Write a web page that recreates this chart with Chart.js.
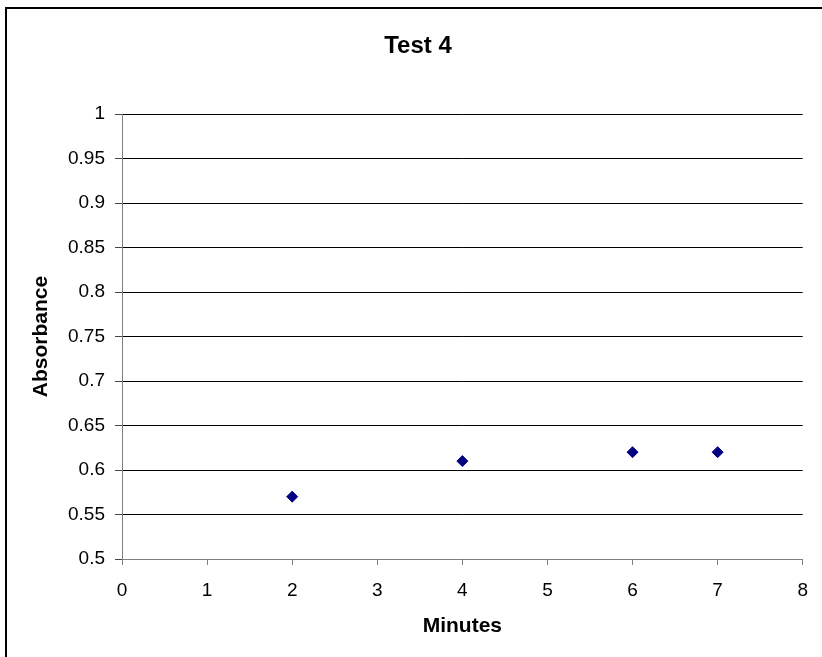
<!DOCTYPE html>
<html>
<head>
<meta charset="utf-8">
<script src="https://cdn.jsdelivr.net/npm/chart.js@4.4.0/dist/chart.umd.min.js"></script>
<style>
  html, body { margin: 0; padding: 0; background: #fff; }
  #wrap { width: 822px; height: 657px; }
</style>
</head>
<body>
<div id="wrap"><canvas id="chart1" width="822" height="657"></canvas></div>
<script>
let chartTitle = 'Test 4';
let xTitle = 'Minutes';
let yTitle = 'Absorbance';

let minutes = [2, 4, 6, 7];
let absorbance = [0.57, 0.61, 0.62, 0.62];

let xTicks = [0, 1, 2, 3, 4, 5, 6, 7, 8];
let yTicks = [0.5, 0.55, 0.6, 0.65, 0.7, 0.75, 0.8, 0.85, 0.9, 0.95, 1];

let fontName = '"Liberation Sans", Arial, sans-serif';

let points = minutes.map((m, i) => ({ x: m, y: absorbance[i] }));

// frame + title drawn like the excel chart box
let boxPlugin = {
    id: 'box',
    afterDraw(chart) {
        let ctx = chart.ctx;
        ctx.save();
        ctx.strokeStyle = '#000';
        ctx.lineWidth = 2;
        ctx.strokeRect(6, 8, 900, 700);
        ctx.fillStyle = '#000';
        ctx.font = 'bold 24px ' + fontName;
        ctx.textAlign = 'center';
        ctx.textBaseline = 'middle';
        ctx.fillText(chartTitle, 418, 46);
        ctx.restore();
    }
};

let ctx1 = document.getElementById('chart1').getContext('2d');

new Chart(ctx1, {
    type: 'scatter',
    data: {
        datasets: [{
            label: yTitle,
            data: points,
            pointStyle: 'rectRot',
            pointRadius: 5.5,
            pointHoverRadius: 5.5,
            backgroundColor: '#000080',
            borderColor: '#000080',
            borderWidth: 1
        }]
    },
    options: {
        responsive: false,
        animation: false,
        layout: {
            padding: { left: 0, top: 114, right: 14, bottom: 0 }
        },
        plugins: {
            legend: { display: false },
            tooltip: { enabled: false }
        },
        scales: {
            x: {
                type: 'linear',
                min: 0,
                max: 8,
                afterBuildTicks: scale => { scale.ticks = xTicks.map(v => ({ value: v })); },
                afterFit: scale => { scale.height = 98; },
                grid: {
                    drawOnChartArea: false,
                    drawTicks: true,
                    tickLength: 6,
                    tickColor: '#808080'
                },
                border: { color: '#808080', width: 1 },
                ticks: {
                    color: '#000',
                    padding: 14,
                    maxRotation: 0,
                    font: { family: fontName, size: 19 },
                    callback: v => String(v)
                },
                title: {
                    display: true,
                    text: xTitle,
                    color: '#000',
                    font: { family: fontName, size: 21, weight: 'bold' },
                    padding: { top: 0, bottom: 18 }
                }
            },
            y: {
                type: 'linear',
                min: 0.5,
                max: 1,
                afterBuildTicks: scale => { scale.ticks = yTicks.map(v => ({ value: v })); },
                afterFit: scale => { scale.width = 122; },
                grid: {
                    color: '#000',
                    lineWidth: 1,
                    drawTicks: true,
                    tickLength: 7,
                    tickColor: '#444'
                },
                border: { color: '#808080', width: 1 },
                ticks: {
                    color: '#000',
                    padding: 10,
                    font: { family: fontName, size: 19 },
                    callback: v => String(v)
                },
                title: {
                    display: true,
                    text: yTitle,
                    color: '#000',
                    font: { family: fontName, size: 21, weight: 'bold' },
                    padding: { top: 29, bottom: 0 }
                }
            }
        }
    },
    plugins: [boxPlugin]
});
</script>
</body>
</html>
